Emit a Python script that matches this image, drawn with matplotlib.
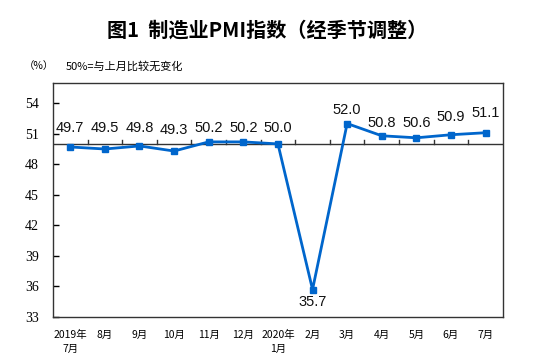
import matplotlib
matplotlib.use("Agg")
import matplotlib.pyplot as plt

plt.rcParams["font.family"] = ["Noto Sans CJK SC", "DejaVu Sans"]

months = ["2019年\n7月", "8月", "9月", "10月", "11月", "12月", "2020年\n1月",
          "2月", "3月", "4月", "5月", "6月", "7月"]
pmi = [49.7, 49.5, 49.8, 49.3, 50.2, 50.2, 50.0, 35.7, 52.0, 50.8, 50.6, 50.9, 51.1]
label_y = [51.6, 51.6, 51.6, 51.4, 51.6, 51.6, 51.6, 34.45, 53.3, 52.1, 52.1, 52.6, 53.0]
yticks = [33, 36, 39, 42, 45, 48, 51, 54]

line_color = "#0066CC"

fig = plt.figure(figsize=(5.35, 3.57), dpi=100)
ax = fig.add_axes([0.099, 0.112, 0.841, 0.656])

x = list(range(len(pmi)))
ax.plot(x, pmi, color=line_color, lw=2, marker="s", ms=4.5, zorder=3)

for xi, v, ly in zip(x, pmi, label_y):
    ax.text(xi, ly, f"{v:.1f}", ha="center", va="center", fontsize=10.5,
            family="Liberation Sans", color="#111111")

ax.set_xlim(-0.5, len(pmi) - 0.5)
ax.set_ylim(33, 56)

# 50 line acting as category axis, ticks between months
ax.axhline(50, color="#333333", lw=1, zorder=2)
for b in range(1, len(pmi)):
    ax.plot([b - 0.5, b - 0.5], [50, 50.4], color="#333333", lw=1, zorder=2)

ax.set_yticks(yticks)
ax.set_yticklabels([str(t) for t in yticks], family="Liberation Serif", fontsize=10)
ax.tick_params(axis="y", direction="in", length=4, pad=10, width=1)
ax.set_xticks(x)
ax.set_xticklabels(months, fontsize=7.5, linespacing=1.5)
ax.tick_params(axis="x", length=0, pad=9)

for s in ax.spines.values():
    s.set_color("#333333")
    s.set_linewidth(1)

fig.text(0.5, 0.915, "图1  制造业PMI指数（经季节调整）", ha="center", va="center",
         fontsize=14.5, fontweight="bold")
fig.text(0.045, 0.815, "（%）", ha="left", va="center", fontsize=7.5)
fig.text(0.122, 0.815, "50%=与上月比较无变化", ha="left", va="center", fontsize=8)

fig.savefig("out.png", dpi=100)
